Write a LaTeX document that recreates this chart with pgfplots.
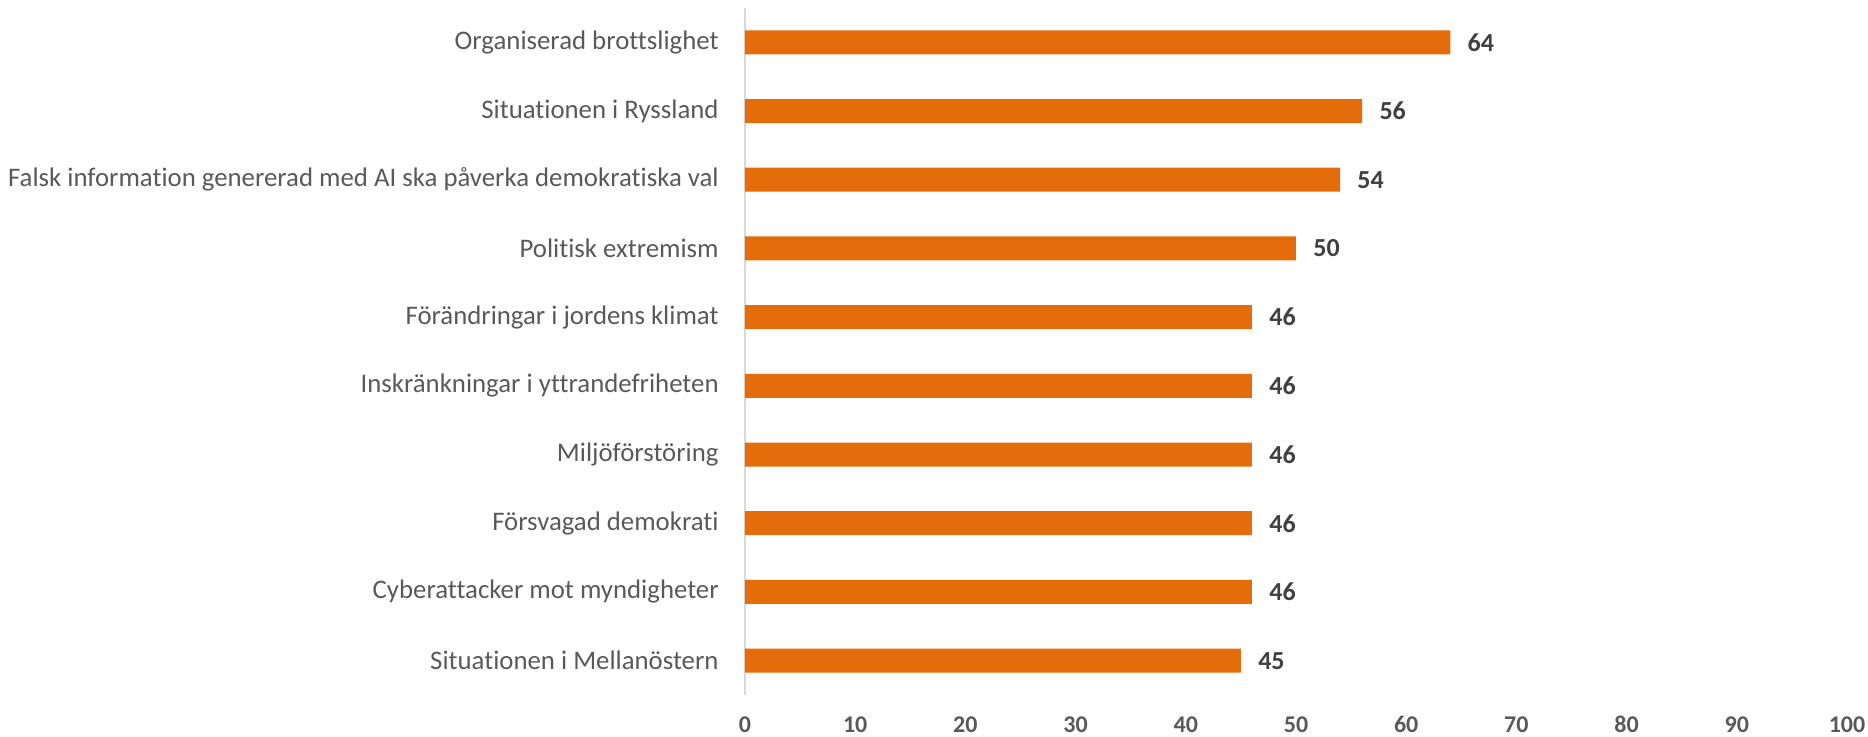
\documentclass[border=0pt]{standalone}
\usepackage{pgfplots}
\pgfplotsset{compat=1.18}
\usepackage{fontspec}
\setmainfont{Carlito}[Ligatures={NoCommon}]
\definecolor{barorange}{HTML}{E46C0A}
\definecolor{labgray}{HTML}{595959}
\definecolor{valgray}{HTML}{404040}
\definecolor{axgray}{HTML}{D9D9D9}
\begin{document}
\begin{tikzpicture}
\path[use as bounding box] (-372.5pt,-21pt) rectangle (561.5pt,347.5pt);
\begin{axis}[
  at={(0,0)}, anchor=south west,
  scale only axis,
  width=551pt, height=343.5pt,
  xbar,
  bar width=12pt,
  xmin=0, xmax=100,
  ymin=-0.5, ymax=9.5,
  y dir=reverse,
  xtick={0,10,...,100},
  ytick={0,...,9},
  yticklabels={Organiserad brottslighet,Situationen i Ryssland,Falsk information genererad med AI ska påverka demokratiska val,Politisk extremism,Förändringar i jordens klimat,Inskränkningar i yttrandefriheten,Miljöförstöring,Försvagad demokrati,Cyberattacker mot myndigheter,Situationen i Mellanöstern},
  axis x line*=bottom,
  axis y line*=left,
  x axis line style={draw=none},
  y axis line style={draw=axgray, line width=0.75pt, -},
  major tick length=0pt,
  tick style={draw=none},
  /pgf/number format/assume math mode=true,
  y tick label style={anchor=east, inner sep=0pt, xshift=-13pt, font=\fontsize{13.4pt}{15pt}\selectfont, text=labgray},
  x tick label style={anchor=base, inner sep=0pt, yshift=-18.5pt, font=\fontsize{12pt}{13pt}\selectfont\bfseries, text=labgray},
  nodes near coords,
  every node near coord/.append style={anchor=west, inner sep=0pt, xshift=8.5pt, font=\fontsize{13pt}{14pt}\selectfont\bfseries, text=valgray},
]
\addplot[fill=barorange, draw=none] coordinates {
  (64,0) (56,1) (54,2) (50,3) (46,4) (46,5) (46,6) (46,7) (46,8) (45,9)
};
\end{axis}
\end{tikzpicture}
\end{document}
